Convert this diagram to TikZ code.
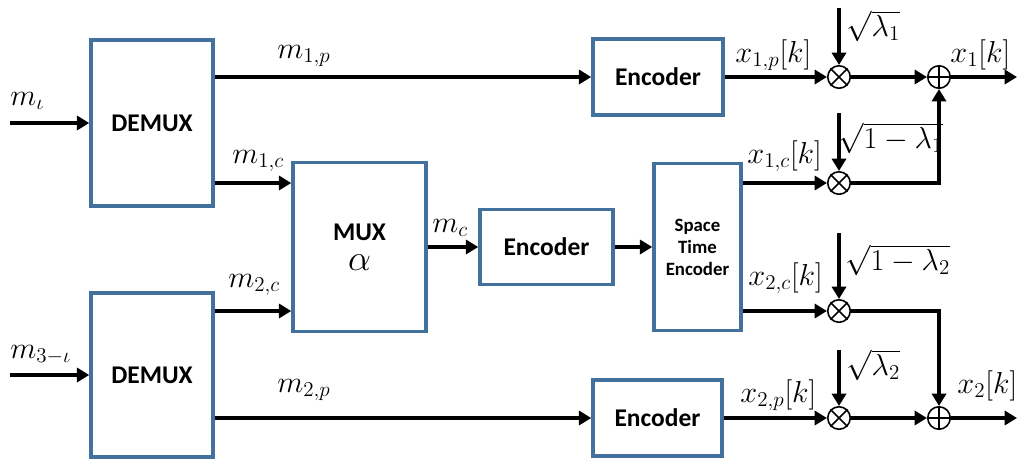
\documentclass[tikz,border=0pt]{standalone}
\usepackage{fontspec}
\newfontfamily\calfont{Carlito}
\usetikzlibrary{arrows.meta}
\definecolor{boxblue}{RGB}{65,113,156}
\begin{document}
\begin{tikzpicture}[x=0.02cm,y=-0.02cm,
  blk/.style={draw=boxblue, line width=2pt, inner sep=0pt, align=center,
    font=\calfont\bfseries\fontsize{14.5}{17}\selectfont},
  sig/.style={line width=2.2pt, -{Triangle[length=7pt,width=8pt]}},
  op/.style={circle, draw, line width=0.9pt, minimum size=0.45cm, inner sep=0pt},
  lab/.style={anchor=base west, inner sep=0pt, font=\LARGE}]
\useasboundingbox (0,0) rectangle (1018,461);

% blocks
\node[blk, minimum width=2.44cm, minimum height=3.32cm] (d1) at (152,123) {DEMUX};
\node[blk, minimum width=2.44cm, minimum height=3.28cm] (d2) at (152,375) {DEMUX};
\node[blk, minimum width=2.66cm, minimum height=3.38cm] (mux) at (359.5,247) {MUX\\{\huge$\alpha$}};
\node[blk, minimum width=2.66cm, minimum height=1.5cm] (enc) at (546.5,247) {Encoder};
\node[blk, minimum width=1.74cm, minimum height=3.34cm,
  font=\calfont\bfseries\fontsize{10.7}{12.5}\selectfont] (st) at (697.5,247) {Space\\Time\\Encoder};
\node[blk, minimum width=2.6cm, minimum height=1.52cm] (enc1) at (658,77) {Encoder};
\node[blk, minimum width=2.58cm, minimum height=1.52cm] (enc2) at (657.5,418) {Encoder};

% operators
\foreach \n/\y in {m1/77, m2/183, m3/311, m4/418}{
  \node[op] (\n) at (839,\y) {};
  \draw[line width=0.9pt] (\n.north west) -- (\n.south east) (\n.north east) -- (\n.south west);
}
\foreach \n/\y in {s1/77, s2/418}{
  \node[op] (\n) at (939,\y) {};
  \draw[line width=0.9pt] (\n.north) -- (\n.south) (\n.west) -- (\n.east);
}

% free ends
\coordinate (in1) at (10,123);
\coordinate (in2) at (10,375);
\coordinate (rowB) at (0,183);
\coordinate (rowD) at (0,311);
\coordinate (out1) at (1017,77);
\coordinate (out2) at (1017,418);
\coordinate (g1) at (839,8);
\coordinate (g2) at (839,113);
\coordinate (g3) at (839,233);
\coordinate (g4) at (839,350);

% connectors
\draw[sig] (in1) -- (d1.west);
\draw[sig] (in2) -- (d2.west);
\draw[sig] (d1.east |- enc1.west) -- (enc1.west);
\draw[sig] (d1.east |- rowB) -- (mux.west |- rowB);
\draw[sig] (d2.east |- rowD) -- (mux.west |- rowD);
\draw[sig] (d2.east |- enc2.west) -- (enc2.west);
\draw[sig] (mux.east) -- (enc.west);
\draw[sig] (enc.east) -- (st.west);
\draw[sig] (enc1.east) -- (m1.west);
\draw[sig] (st.east |- m2.west) -- (m2.west);
\draw[sig] (st.east |- m3.west) -- (m3.west);
\draw[sig] (enc2.east) -- (m4.west);
\draw[sig] (m1.east) -- (s1.west);
\draw[sig] (m4.east) -- (s2.west);
\draw[sig] (m2.east) -| (s1.south);
\draw[sig] (m3.east) -| (s2.north);
\draw[sig] (s1.east) -- (out1);
\draw[sig] (s2.east) -- (out2);
\draw[sig] (g1) -- (m1.north);
\draw[sig] (g2) -- (m2.north);
\draw[sig] (g3) -- (m3.north);
\draw[sig] (g4) -- (m4.north);

% labels
\node[lab] (l1) at (10,105) {$m_\iota$};
\node[lab] (l2) at (10,358) {$m_{3-\iota}$};
\node[lab] (l3) at (277,58) {$m_{1,p}$};
\node[lab] (l4) at (232,163) {$m_{1,c}$};
\node[lab] (l5) at (228,287) {$m_{2,c}$};
\node[lab] (l6) at (277,392) {$m_{2,p}$};
\node[lab] (l7) at (432,232) {$m_c$};
\node[lab] (l8) at (735,62) {$x_{1,p}[k]$};
\node[lab] (l9) at (747,163) {$x_{1,c}[k]$};
\node[lab] (l10) at (748,285) {$x_{2,c}[k]$};
\node[lab] (l11) at (740,402) {$x_{2,p}[k]$};
\node[lab] (l12) at (950,62) {$x_1[k]$};
\node[lab] (l13) at (957,393) {$x_2[k]$};
\node[lab] (l14) at (846,36) {$\sqrt{\lambda_1}$};
\node[lab] (l15) at (838,148) {$\sqrt{1-\lambda_1}$};
\node[lab] (l16) at (845,270) {$\sqrt{1-\lambda_2}$};
\node[lab] (l17) at (846,375) {$\sqrt{\lambda_2}$};
\end{tikzpicture}
\end{document}
